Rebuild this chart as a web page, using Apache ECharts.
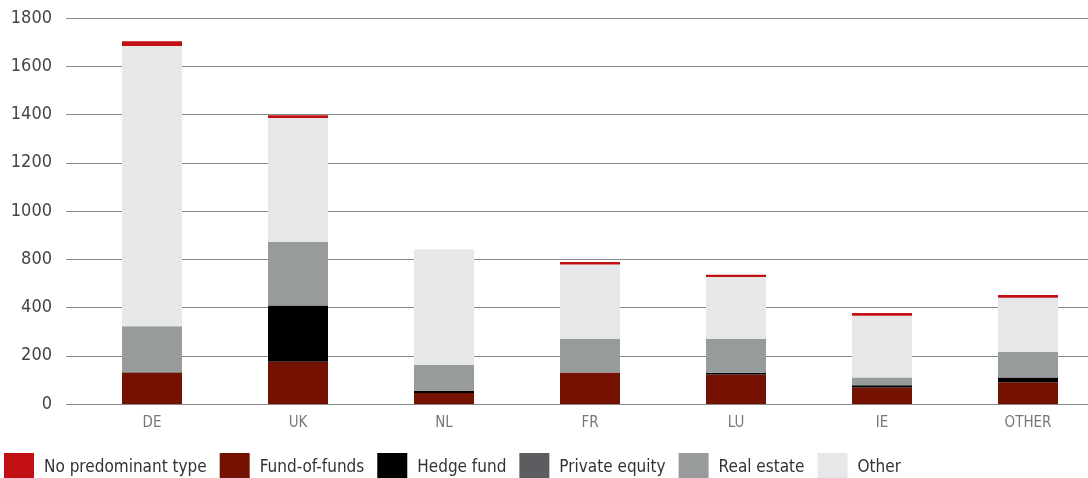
<!DOCTYPE html>
<html>
<head>
<meta charset="utf-8">
<script src="https://cdn.jsdelivr.net/npm/echarts@6/dist/echarts.min.js"></script>
<style>
  html, body { margin: 0; padding: 0; background: #fff; }
  #chart { width: 1088px; height: 478px; }
</style>
</head>
<body>
<div id="chart"></div>
<script>
// categories and tick labels (as printed on the original)
var countries = ['DE', 'UK', 'NL', 'FR', 'LU', 'IE', 'OTHER'];
var yTickLabels = ['0', '200', '400', '800', '1000', '1200', '1400', '1600', '1800'];

// series values, bottom of the stack first
var fundOfFunds   = [147, 197, 51, 147, 137, 77, 101];
var hedgeFund     = [0, 262, 11, 0, 9, 10, 23];
var privateEquity = [5, 0, 0, 0, 0, 0, 0];
var realEstate    = [210, 297, 121, 156, 157, 37, 120];
var other         = [1308, 578, 539, 348, 289, 287, 251];
var noPredominant = [22, 13, 0, 11, 11, 13, 13];

var FONT = '"DejaVu Sans Condensed", "DejaVu Sans", sans-serif';

function chartit(container) {
  var myChart = echarts.init(document.getElementById(container));

  function bar(name, data, color) {
    return {
      name: name,
      type: 'bar',
      stack: 'total',
      xAxisIndex: 1,
      yAxisIndex: 1,
      barWidth: 60,
      data: data,
      itemStyle: {color: color},
      emphasis: {disabled: true}
    };
  }

  var option = {
    animation: false,
    textStyle: {fontFamily: FONT},
    // grid 0 carries the gridlines and y labels, grid 1 the bars (bands run past the right edge)
    grid: [
      {left: 66, right: 0, top: 18, bottom: 74, outerBoundsMode: 'none'},
      {left: 79, width: 1022, top: 18, bottom: 74, outerBoundsMode: 'none'}
    ],
    legend: {
      left: 4,
      top: 453,
      padding: 0,
      itemWidth: 30,
      itemHeight: 30,
      itemGap: 13,
      icon: 'rect',
      data: ['No predominant type', 'Fund-of-funds', 'Hedge fund', 'Private equity', 'Real estate', 'Other'],
      textStyle: {fontFamily: FONT, fontSize: 17, color: '#333', padding: [0, 0, 0, 5]}
    },
    xAxis: [
      {type: 'value', gridIndex: 0, show: false},
      {
        type: 'category',
        gridIndex: 1,
        data: countries,
        axisTick: {show: false},
        axisLine: {show: false},
        axisLabel: {color: '#777', fontSize: 15, margin: 12, fontFamily: FONT}
      }
    ],
    yAxis: [
      {
        type: 'value',
        gridIndex: 0,
        min: 0,
        max: 1800,
        interval: 225,
        axisLine: {show: false},
        axisTick: {show: false},
        splitLine: {lineStyle: {color: '#8a8a8a', width: 1}},
        axisLabel: {
          color: '#444',
          fontSize: 18,
          margin: 14,
          fontFamily: FONT,
          formatter: function (v) { return yTickLabels[Math.round(v / 225)]; }
        }
      },
      {type: 'value', gridIndex: 1, min: 0, max: 1800, interval: 225, show: false, splitLine: {show: false}}
    ],
    series: [
      bar('Fund-of-funds', fundOfFunds, '#741100'),
      bar('Hedge fund', hedgeFund, '#000000'),
      bar('Private equity', privateEquity, '#5b5d60'),
      bar('Real estate', realEstate, '#979b9c'),
      bar('Other', other, '#e6e7e9'),
      bar('No predominant type', noPredominant, '#c20f14')
    ]
  };
  myChart.setOption(option);
}

chartit('chart');
</script>
</body>
</html>
